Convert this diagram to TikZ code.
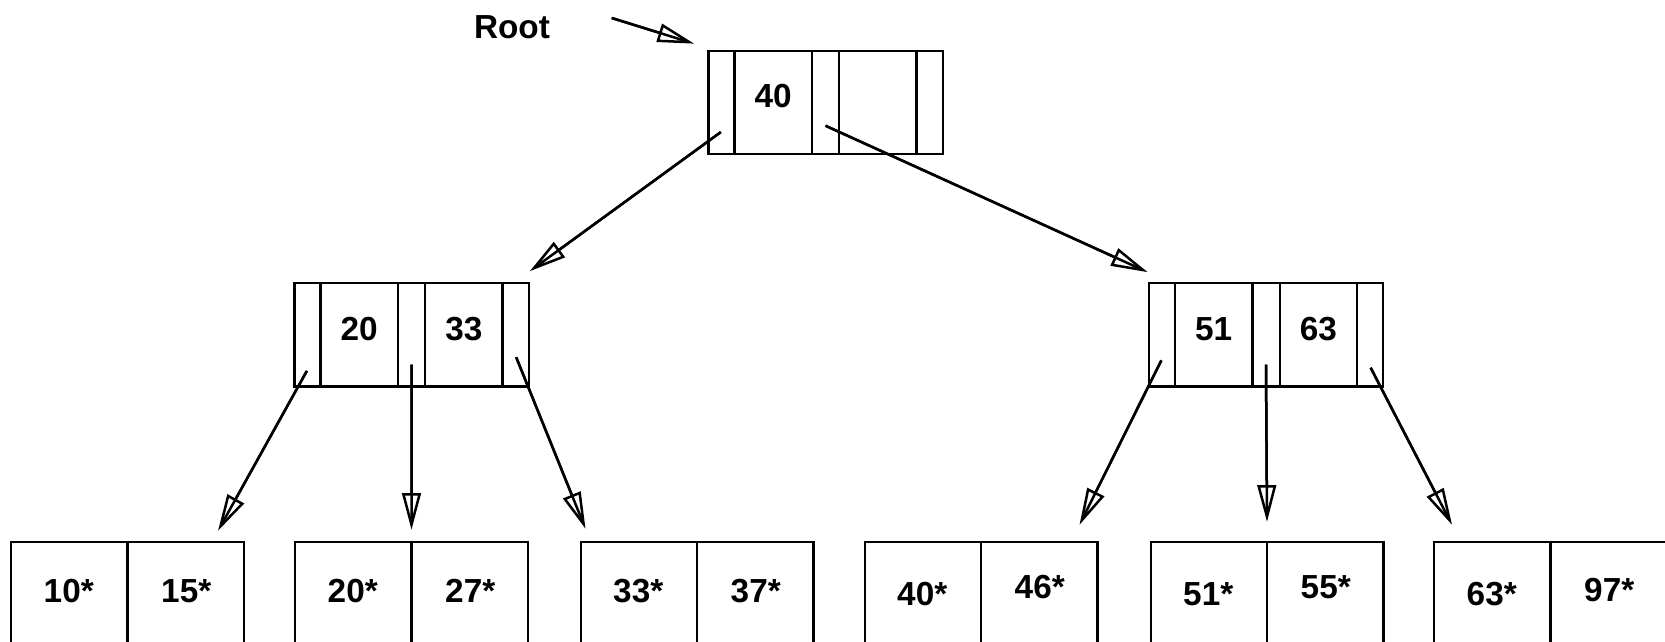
\documentclass[tikz,border=0pt]{standalone}
\usepackage{fontspec}
\setmainfont{Liberation Sans}
\usetikzlibrary{shapes.multipart,arrows.meta,calc}
\tikzstyle{every node}=[font=\fontsize{10}{12}\selectfont\bfseries]
\tikzstyle{bnode}=[draw, line width=.7pt, rectangle split, rectangle split horizontal,
                   rectangle split parts=5, inner sep=0pt, minimum height=31pt]
\tikzstyle{lnode}=[draw, line width=.7pt, rectangle split, rectangle split horizontal,
                   rectangle split parts=2, inner sep=0pt, minimum height=31.2pt]
\tikzstyle{ptr}=[line width=.75pt, -{Triangle[open,length=11pt,width=5.6pt]},
                 postaction={draw,-,shorten >=2pt}]
\newcommand{\pc}{\makebox[7.5pt]{}}
\newcommand{\kc}[1]{\makebox[22.5pt]{\rule[-3.8pt]{0pt}{3.8pt}#1}}
\newcommand{\lc}[1]{\makebox[34.55pt]{\rule[-2pt]{0pt}{2pt}#1}}

\begin{document}
\begin{tikzpicture}[x=.3pt,y=-.3pt]
  \useasboundingbox (0,0) rectangle (1665,642);
  \node (lbl) at (512,27) {Root};
  % index nodes
  \node[bnode] (root) at (825.5,102.5)
    {\pc\nodepart{two}\kc{40}\nodepart{three}\pc\nodepart{four}\kc{}\nodepart{five}\pc};
  \node[bnode] (ln) at (411.5,335)
    {\pc\nodepart{two}\kc{20}\nodepart{three}\pc\nodepart{four}\kc{33}\nodepart{five}\pc};
  \node[bnode] (rn) at (1266,335)
    {\pc\nodepart{two}\kc{51}\nodepart{three}\pc\nodepart{four}\kc{63}\nodepart{five}\pc};
  % leaves
  \node[lnode] (l1) at (127.5,594) {\lc{10*}\nodepart{two}\lc{15*}};
  \node[lnode] (l2) at (411.5,594) {\lc{20*}\nodepart{two}\lc{27*}};
  \node[lnode] (l3) at (697,594) {\lc{33*}\nodepart{two}\lc{37*}};
  \node[lnode] (l4) at (981,594)
    {\lc{\raisebox{-3pt}{40*}}\nodepart{two}\lc{\raisebox{2pt}{46*}}};
  \node[lnode] (l5) at (1267,594)
    {\lc{\raisebox{-3pt}{51*}}\nodepart{two}\lc{\raisebox{2pt}{55*}}};
  \node[lnode] (l6) at (1550.5,594)
    {\lc{\raisebox{-3.5pt}{63*}}\nodepart{two}\lc{\raisebox{.5pt}{97*}}};

  \draw[ptr] ([xshift=15pt,yshift=2.7pt]lbl.east) -- ([xshift=-3.9pt,yshift=1.8pt]root.north west);
  \draw[ptr] ($(root.one north)!.78!(root.one south)$) -- ([yshift=3.3pt]ln.north east);
  \draw[ptr] ($(root.three north)!.72!(root.three south)$) -- ([yshift=3pt]rn.north west);
  \draw[ptr] ($(ln.one north)!.84!(ln.one south)$) -- ([xshift=-8.1pt,yshift=3pt]l1.north east);
  \draw[ptr] ($(ln.three north)!.78!(ln.three south)$) -- ([yshift=3.3pt]l2.north);
  \draw[ptr] ($(ln.five north)!.71!(ln.five south)$) -- ([xshift=1.8pt,yshift=3.6pt]l3.north west);
  \draw[ptr] ($(rn.one north)!.74!(rn.one south)$) -- ([xshift=-5.7pt,yshift=4.8pt]l4.north east);
  \draw[ptr] ($(rn.three north)!.78!(rn.three south)$) -- ([yshift=5.7pt]l5.north);
  \draw[ptr] ($(rn.five north)!.81!(rn.five south)$) -- ([xshift=5.7pt,yshift=4.8pt]l6.north west);
\end{tikzpicture}
\end{document}
